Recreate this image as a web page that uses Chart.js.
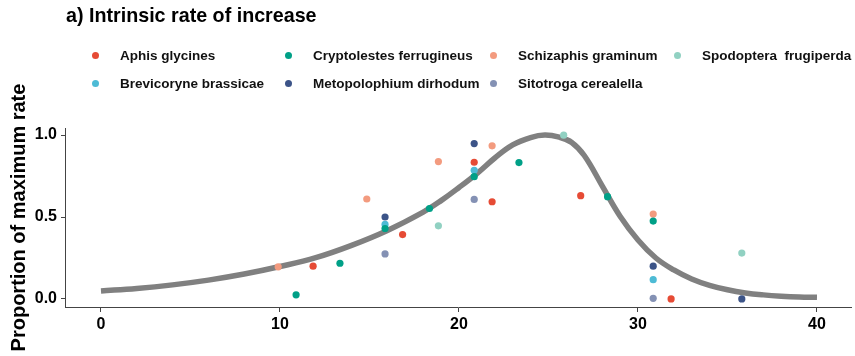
<!DOCTYPE html>
<html>
<head>
<meta charset="utf-8">
<script src="https://cdn.jsdelivr.net/npm/chart.js@4/dist/chart.umd.min.js"></script>
<style>
  body { margin: 0; background: #fff; font-family: 'Liberation Sans', Arial, sans-serif; }
  #wrap { position: relative; width: 855px; height: 356px; overflow: hidden; }
  #chart { position: absolute; left: 0; top: 0; }
  #title { position: absolute; left: 66px; top: 5px; font-size: 19.7px; font-weight: bold; line-height: 20px; color: #000; white-space: pre; }
  .item { position: absolute; height: 20px; line-height: 20px; font-size: 13.5px; font-weight: bold; color: #111; white-space: pre; }
  .dot { position: absolute; width: 7px; height: 7px; border-radius: 50%; }
</style>
</head>
<body>
<div id="wrap">
  <canvas id="chart" width="855" height="356"></canvas>
  <div id="title">a) Intrinsic rate of increase</div>
  <div id="legend"></div>
</div>
<script>
// ==========================================
// Data
// ==========================================
const speciesNames = [
  'Aphis glycines', 'Cryptolestes ferrugineus', 'Schizaphis graminum', 'Spodoptera  frugiperda',
  'Brevicoryne brassicae', 'Metopolophium dirhodum', 'Sitotroga cerealella'
];
const speciesColors = ['#E64B35', '#00A087', '#F39B7F', '#91D1C2', '#4DBBD5', '#3C5488', '#8491B4'];

// [temperature, proportion of maximum rate]
const aphisGlycines = [[11.85, 0.20], [16.85, 0.393], [20.85, 0.834], [21.85, 0.593], [26.8, 0.63], [31.85, 0.0]];
const cryptolestesFerrugineus = [[10.9, 0.025], [13.35, 0.218], [15.87, 0.43], [18.35, 0.552], [20.85, 0.746], [23.35, 0.832], [28.3, 0.624], [30.85, 0.475]];
const schizaphisGraminum = [[9.9, 0.196], [14.85, 0.61], [18.85, 0.838], [21.85, 0.934], [30.85, 0.518]];
const spodopteraFrugiperda = [[18.85, 0.446], [25.85, 0.999], [35.8, 0.28]];
const brevicoryneBrassicae = [[15.87, 0.455], [20.85, 0.785], [30.85, 0.118]];
const metopolophiumDirhodum = [[15.87, 0.50], [20.85, 0.948], [30.85, 0.20], [35.8, 0.0]];
const sitotrogaCerealella = [[15.87, 0.275], [20.85, 0.607], [30.85, 0.004]];
const speciesData = [aphisGlycines, cryptolestesFerrugineus, schizaphisGraminum, spodopteraFrugiperda,
  brevicoryneBrassicae, metopolophiumDirhodum, sitotrogaCerealella];

// fitted curve
const curveX = [0, 2, 4, 6, 8, 10, 12, 14, 16, 18, 19, 20, 21, 22, 23, 24, 24.8, 25.6, 26.3, 27, 28, 29, 30, 31, 32, 33, 34, 35, 36, 37, 38, 39, 40];
const curveY = [0.049, 0.064, 0.086, 0.115, 0.152, 0.198, 0.252, 0.327, 0.418, 0.53, 0.60, 0.68, 0.765, 0.86, 0.94, 0.985, 1.0, 0.987, 0.955, 0.875, 0.69, 0.505, 0.36, 0.25, 0.177, 0.122, 0.083, 0.056, 0.037, 0.025, 0.017, 0.012, 0.01];

const xTicks = [0, 10, 20, 30, 40];
const yTicks = [0, 0.5, 1.0];

// ==========================================
// Legend (HTML, fixed columns like the original)
// ==========================================
function buildLegend() {
  const legend = document.getElementById('legend');
  const colX = [95, 288, 493, 677];
  const rowY = [55, 83];
  speciesNames.forEach((name, i) => {
    const col = i % 4;
    const row = Math.floor(i / 4);
    const dot = document.createElement('div');
    dot.className = 'dot';
    dot.style.background = speciesColors[i];
    dot.style.left = (colX[col] - 3.5) + 'px';
    dot.style.top = (rowY[row] - 3.5) + 'px';
    legend.appendChild(dot);

    const label = document.createElement('div');
    label.className = 'item';
    label.textContent = name;
    label.style.left = (colX[col] + 25) + 'px';
    label.style.top = (rowY[row] - 9.5) + 'px';
    legend.appendChild(label);
  });
}

// ==========================================
// Chart
// ==========================================
function initChart() {
  const tickFont = { family: "'Liberation Sans', Arial, sans-serif", size: 16, weight: 'bold' };

  const pointSets = speciesData.map((pts, i) => ({
    label: speciesNames[i],
    data: pts.map(p => ({ x: p[0], y: p[1] })),
    backgroundColor: speciesColors[i],
    borderColor: speciesColors[i],
    borderWidth: 0,
    pointRadius: 3.6,
    showLine: false,
    clip: false
  }));

  const curveSet = {
    label: 'fit',
    data: curveX.map((x, i) => ({ x: x, y: curveY[i] })),
    showLine: true,
    borderColor: '#808080',
    borderWidth: 5.5,
    borderCapStyle: 'butt',
    pointRadius: 0,
    tension: 0.4,
    clip: false
  };

  const ctx = document.getElementById('chart').getContext('2d');
  return new Chart(ctx, {
    type: 'scatter',
    data: { datasets: [...pointSets, curveSet] },
    options: {
      responsive: false,
      animation: false,
      layout: { padding: { top: 128, right: 4, left: 0, bottom: 0 } },
      plugins: { legend: { display: false }, tooltip: { enabled: false } },
      scales: {
        x: {
          type: 'linear', min: -2.01, max: 41.9,
          afterBuildTicks: s => { s.ticks = xTicks.map(v => ({ value: v })); },
          afterFit: s => { s.height = 49; },
          grid: { drawOnChartArea: false, drawTicks: true, tickLength: 5, color: '#444' },
          border: { color: '#444', width: 1 },
          ticks: { font: tickFont, color: '#000', padding: 3, maxRotation: 0 }
        },
        y: {
          type: 'linear', min: -0.049, max: 1.043,
          afterBuildTicks: s => { s.ticks = yTicks.map(v => ({ value: v })); },
          afterFit: s => { s.width = 65; },
          grid: { drawOnChartArea: false, drawTicks: true, tickLength: 4, color: '#444' },
          border: { color: '#444', width: 1 },
          ticks: { font: tickFont, color: '#000', padding: 4, callback: v => v.toFixed(1) },
          title: {
            display: true,
            text: 'Proportion of maximum rate',
            color: '#000',
            font: { family: "'Liberation Sans', Arial, sans-serif", size: 20, weight: 'bold' },
            padding: { top: 7, bottom: 0 }
          }
        }
      }
    }
  });
}

buildLegend();
initChart();
</script>
</body>
</html>
